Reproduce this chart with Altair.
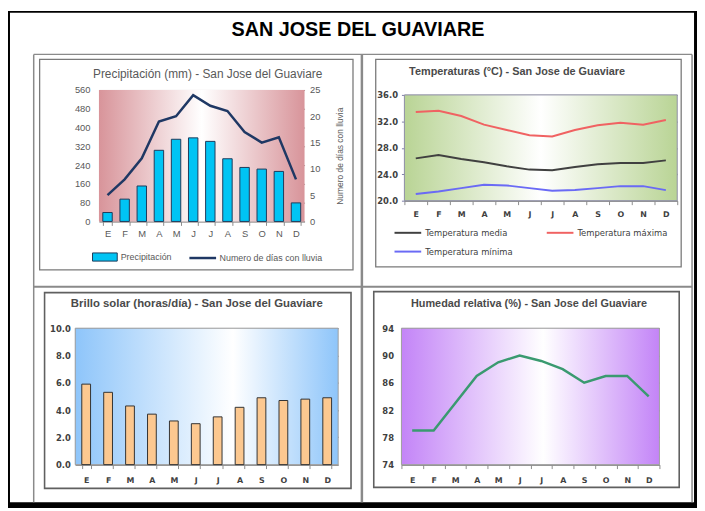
import altair as alt
import pandas as pd

# ---------------- data ----------------
meses = ["Ene", "Feb", "Mar", "Abr", "May", "Jun", "Jul", "Ago", "Sep", "Oct", "Nov", "Dic"]
precipitacion = [38, 95, 151, 303, 350, 356, 341, 267, 230, 223, 213, 79]
dias_lluvia = [5, 8, 12, 19, 20, 24, 22, 21, 17, 15, 16, 8]
temp_media = [26.4, 26.9, 26.3, 25.8, 25.2, 24.7, 24.6, 25.1, 25.5, 25.7, 25.7, 26.1]
temp_max = [33.4, 33.6, 32.8, 31.5, 30.7, 29.9, 29.7, 30.7, 31.4, 31.8, 31.5, 32.2]
temp_min = [21.0, 21.4, 21.9, 22.4, 22.3, 21.9, 21.5, 21.6, 21.9, 22.2, 22.2, 21.6]
brillo = [5.9, 5.3, 4.3, 3.7, 3.2, 3.0, 3.5, 4.2, 4.9, 4.7, 4.8, 4.9]
humedad = [79, 79, 83, 87, 89, 90, 89.2, 88, 86, 87, 87, 84]

serie_precip = "Precipitación"
serie_dias = "Numero de días con lluvia"
serie_media = "Temperatura media"
serie_max = "Temperatura máxima"
serie_min = "Temperatura mínima"
# legend fills column by column: media / mínima in the first column, máxima in the second
orden_leyenda = [serie_media, serie_min, serie_max]
colores_leyenda = ["#404040", "#6a6af5", "#f06262"]

titulo = "SAN JOSE DEL GUAVIARE"
titulos = ["Precipitación (mm) - San Jose  del Guaviare",
           "Temperaturas (°C) - San Jose de Guaviare",
           "Brillo solar (horas/día) - San Jose del Guaviare",
           "Humedad relativa (%) - San Jose del Guaviare"]

ticks_precip = [0, 80, 160, 240, 320, 400, 480, 560]
ticks_dias = [0, 5, 10, 15, 20, 25]
ticks_temp = [20, 24, 28, 32, 36]
ticks_brillo = [0, 2, 4, 6, 8, 10]
ticks_hum = [74, 78, 82, 86, 90, 94]

# ---------------- tables ----------------
df_p = pd.DataFrame({"mes": meses, "precipitacion": precipitacion, "dias": dias_lluvia})
df_p["s1"] = serie_precip
df_p["s2"] = serie_dias
df_t = pd.DataFrame({
    "mes": meses * 3,
    "serie": [serie_media] * 12 + [serie_max] * 12 + [serie_min] * 12,
    "valor": temp_media + temp_max + temp_min,
})
df_b = pd.DataFrame({"mes": meses, "brillo": brillo})
df_h = pd.DataFrame({"mes": meses, "humedad": humedad})

# ---------------- layout (canvas pixels) ----------------
W, H = 697, 503
P1 = (92, 300, 80, 213)      # x0, x1, y0, y1
P2 = (401, 677, 85, 192)
P3 = (68, 334, 321, 459)
P4 = (398, 659, 321, 459)

FT = "Liberation Sans"
FA = "DejaVu Sans"
LBL = "isValid(datum.value) && datum.value != '' ? substring(datum.value, 0, 1) : ''"
ONE = alt.Data(values=[{"a": 0}])


def grad(edge, mid=0.5):
    return alt.LinearGradient(
        gradient="linear", x1=0, x2=1, y1=0, y2=0,
        stops=[alt.GradientStop(color=edge, offset=0),
               alt.GradientStop(color="#ffffff", offset=mid),
               alt.GradientStop(color=edge, offset=1)])


def box(x0, x1, y0, y1, **mk):
    return alt.Chart(ONE).mark_rect(**mk).encode(
        x=alt.value(x0), x2=alt.value(x1), y=alt.value(y0), y2=alt.value(y1))


def rule(x0, x1, y0, y1, color="#8a8a8a", width=1.5):
    return alt.Chart(ONE).mark_rule(color=color, strokeWidth=width).encode(
        x=alt.value(x0), x2=alt.value(x1), y=alt.value(y0), y2=alt.value(y1))


def label(text, x, y, size, weight, color, font=FT):
    return alt.Chart(ONE).mark_text(text=text, font=font, fontSize=size, fontWeight=weight,
                                    color=color, align="center", baseline="middle").encode(
        x=alt.value(x), y=alt.value(y))


def xaxis(P, font, size, color, weight, pad):
    return alt.Axis(labelExpr=LBL, labelAngle=0, labelFont=font, labelFontSize=size,
                    labelColor=color, labelFontWeight=weight, labelPadding=pad,
                    domainColor="#8c8c8c", tickColor="#8c8c8c", tickBand="extent",
                    tickSize=4, grid=False, title=None, orient="bottom", offset=-(H - P[3]))


def yaxis(P, values, fmt, pad, **kw):
    base = dict(values=values, format=fmt, title=None, labelFont=FA, labelFontSize=8.5,
                labelFontWeight="bold", labelColor="#404040", labelPadding=pad,
                grid=True, gridColor="#8a8a8a", gridWidth=1.3, domainColor="#8c8c8c",
                tickColor="#8c8c8c", tickSize=3, orient="left", offset=-P[0])
    base.update(kw)
    return alt.Axis(**base)


# ---------------- decoration: page frame, table lines, chart boxes ----------------
decor = [
    box(0, 2, 0, H, fill="#000000"), box(0, W, 0, 2, fill="#000000"),
    box(694, W, 0, H, fill="#000000"), box(0, W, 497, H, fill="#000000"),
    rule(26, 26, 44, 497), rule(692, 692, 44, 497), rule(358, 358, 44, 497, width=2.5),
    rule(26, 692, 44, 44), rule(26, 692, 279, 279, width=2),
    box(32, 349, 49, 262, fill=None, stroke="#7a7a7a", strokeWidth=1.3),
    box(372, 681, 49, 259, fill=None, stroke="#7a7a7a", strokeWidth=1.3),
    box(37, 347, 285, 483, fill=None, stroke="#606060", strokeWidth=1.6),
    box(370, 679, 284, 482, fill=None, stroke="#606060", strokeWidth=1.6),
]

# ---------------- panel 1: precipitation ----------------
x1 = alt.X("mes:N", scale=alt.Scale(domain=meses, range=[P1[0], P1[1]],
                                    paddingInner=0.45, paddingOuter=0.225),
           axis=xaxis(P1, FT, 9.5, "#595959", "normal", 3))
bars1 = alt.Chart(df_p).mark_bar(stroke="#1f3b5a", strokeWidth=1).encode(
    x=x1,
    y=alt.Y("precipitacion:Q", scale=alt.Scale(domain=[0, 560], nice=False, range=[P1[3], P1[2]]),
            axis=alt.Axis(values=ticks_precip, title=None, labelFont=FT, labelFontSize=9.5,
                          labelColor="#595959", labelPadding=9, domain=False, ticks=False,
                          grid=True, gridColor="#a08f8f", gridWidth=1, orient="left",
                          offset=-P1[0])),
    fill=alt.Fill("s1:N", scale=alt.Scale(domain=[serie_precip], range=["#00c4f4"]),
                  legend=alt.Legend(orient="none", legendX=85, legendY=236, title=None,
                                    padding=0, symbolType="M-1,-0.33L1,-0.33L1,0.33L-1,0.33Z",
                                    symbolSize=625, symbolStrokeColor="#1f3b5a",
                                    symbolStrokeWidth=1, labelFont=FT, labelFontSize=9,
                                    labelColor="#595959", labelOffset=3)),
)
line1 = alt.Chart(df_p).mark_line(strokeWidth=2.5).encode(
    x=x1,
    y=alt.Y("dias:Q", scale=alt.Scale(domain=[0, 25], nice=False, range=[P1[3], P1[2]]),
            axis=alt.Axis(orient="right", offset=-(W - P1[1]), values=ticks_dias,
                          title=serie_dias, titleAngle=270, titleFont=FT, titleFontSize=8.5,
                          titleFontWeight="normal", titleColor="#595959", titlePadding=25,
                          labelFont=FT, labelFontSize=9.5, labelColor="#595959",
                          labelPadding=5, domain=False, ticks=False, grid=False)),
    stroke=alt.Stroke("s2:N", scale=alt.Scale(domain=[serie_dias], range=["#1f3864"]),
                      legend=alt.Legend(orient="none", legendX=182, legendY=235, title=None,
                                        padding=0, symbolType="stroke", symbolSize=729,
                                        symbolStrokeWidth=2.5, labelFont=FT, labelFontSize=9,
                                        labelColor="#595959", labelOffset=2)),
)
p1 = alt.layer(bars1, line1).resolve_scale(y="independent")

# ---------------- panel 2: temperatures ----------------
p2 = alt.Chart(df_t).mark_line(strokeWidth=2).encode(
    x=alt.X("mes:N", scale=alt.Scale(domain=meses, type="band", paddingInner=0, paddingOuter=0,
                                     range=[P2[0], P2[1]]),
            bandPosition=0.5, axis=xaxis(P2, FA, 8, "#404040", "bold", 6)),
    y=alt.Y("valor:Q", scale=alt.Scale(domain=[20, 36], nice=False, range=[P2[3], P2[2]]),
            axis=yaxis(P2, ticks_temp, ".1f", 4, domainColor="#8080a8", tickColor="#8080a8")),
    color=alt.Color("serie:N", scale=alt.Scale(domain=orden_leyenda, range=colores_leyenda),
                    legend=alt.Legend(orient="none", legendX=390, legendY=210, title=None,
                                      padding=0, columns=2, symbolType="stroke", symbolSize=729,
                                      symbolStrokeWidth=2, columnPadding=30, rowPadding=-8,
                                      labelFont=FA, labelFontSize=8.5, labelColor="#404040",
                                      labelOffset=3)),
)

# ---------------- panel 3: sunshine ----------------
p3 = alt.Chart(df_b).mark_bar(fill="#fcc890", stroke="#333333", strokeWidth=1).encode(
    x=alt.X("mes:N", scale=alt.Scale(domain=meses, paddingInner=0.6, paddingOuter=0.3,
                                     range=[P3[0], P3[1]]),
            axis=xaxis(P3, FA, 8, "#404040", "bold", 8)),
    y=alt.Y("brillo:Q", scale=alt.Scale(domain=[0, 10], nice=False, range=[P3[3], P3[2]]),
            axis=yaxis(P3, ticks_brillo, ".1f", 5, ticks=False)),
)

# ---------------- panel 4: humidity ----------------
p4 = alt.Chart(df_h).mark_line(strokeWidth=2.5, color="#3a9a70").encode(
    x=alt.X("mes:N", scale=alt.Scale(domain=meses, type="band", paddingInner=0, paddingOuter=0,
                                     range=[P4[0], P4[1]]),
            bandPosition=0.5, axis=xaxis(P4, FA, 8, "#404040", "bold", 8)),
    y=alt.Y("humedad:Q", scale=alt.Scale(domain=[74, 94], nice=False, range=[P4[3], P4[2]]),
            axis=yaxis(P4, ticks_hum, "d", 8, ticks=False)),
)

backgrounds = [
    box(P1[0], P1[1], P1[2], P1[3], fill=grad("#d8949a")),
    box(P2[0], P2[1], P2[2], P2[3], fill=grad("#b9d495"), stroke="#9090a8", strokeWidth=1),
    box(P3[0], P3[1], P3[2], P3[3], fill=grad("#8ec5fa", 0.6), stroke="#a0a0a0", strokeWidth=1),
    box(P4[0], P4[1], P4[2], P4[3], fill=grad("#c384f7", 0.55), stroke="#a0a0a0", strokeWidth=1),
]

texts = [
    label(titulo, 354, 19, 20, "bold", "#000000"),
    label(titulos[0], 202, 64, 12, "normal", "#595959"),
    label(titulos[1], 515, 62, 11, "bold", "#4a4a4a"),
    label(titulos[2], 191, 297, 11.5, "bold", "#4a4a4a"),
    label(titulos[3], 527, 297, 11, "bold", "#4a4a4a"),
]

chart = alt.layer(*decor, *backgrounds, p1, p2, p3, p4, *texts).resolve_scale(
    x="independent", y="independent", color="independent", fill="independent",
    stroke="independent").resolve_axis(x="independent", y="independent").resolve_legend(
    color="independent", fill="independent", stroke="independent").properties(
    width=W, height=H, padding=0, background="white",
    autosize=alt.AutoSizeParams(type="none"),
).configure_view(stroke=None)

chart.save("out.html", embed_options={"renderer": "svg", "actions": False})
